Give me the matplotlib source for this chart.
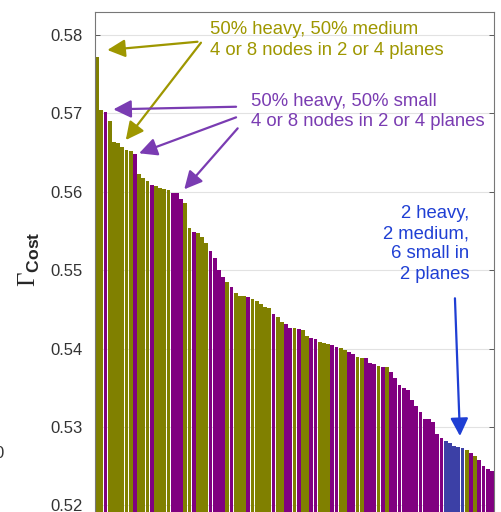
import numpy as np
import matplotlib
matplotlib.use("Agg")
import matplotlib.pyplot as plt

plt.rcParams['font.family'] = ['Liberation Sans', 'DejaVu Sans']
plt.rcParams['mathtext.fontset'] = 'custom'
plt.rcParams['mathtext.rm'] = 'Liberation Serif'
plt.rcParams['mathtext.bf'] = 'Liberation Sans:bold'

# Gamma_cost of each configuration, sorted descending
cost = [0.57717, 0.57038, 0.57017, 0.56902, 0.56627, 0.56620, 0.56568, 0.56535, 0.56522, 0.56478,
        0.56220, 0.56175, 0.56138, 0.56089, 0.56074, 0.56045, 0.56032, 0.56015, 0.55987, 0.55978,
        0.55901, 0.55850, 0.55531, 0.55488, 0.55468, 0.55417, 0.55344, 0.55242, 0.55153, 0.55000,
        0.54915, 0.54851, 0.54780, 0.54703, 0.54675, 0.54669, 0.54652, 0.54637, 0.54609, 0.54567,
        0.54532, 0.54512, 0.54436, 0.54399, 0.54341, 0.54307, 0.54265, 0.54255, 0.54245, 0.54236,
        0.54159, 0.54138, 0.54117, 0.54087, 0.54066, 0.54053, 0.54045, 0.54023, 0.54003, 0.53981,
        0.53952, 0.53930, 0.53896, 0.53885, 0.53873, 0.53819, 0.53799, 0.53781, 0.53768, 0.53760,
        0.53704, 0.53620, 0.53535, 0.53501, 0.53471, 0.53344, 0.53268, 0.53195, 0.53102, 0.53096,
        0.53067, 0.52911, 0.52856, 0.52825, 0.52792, 0.52762, 0.52741, 0.52735, 0.52707, 0.52673,
        0.52634, 0.52580, 0.52503, 0.52461, 0.52443]

# M = 50% heavy / 50% medium, S = 50% heavy / 50% small, X = 2 heavy, 2 medium, 6 small
group = list("MMSMMMMMMS"
             "MMMSMMMMSS"
             "SMMSMMMSSS"
             "SMSMMMSMMM"
             "MMSMMSSMSM"
             "MSSMMMSSMM"
             "SSMMSSSMSM"
             "SSSSSSSSSS"
             "SSSXXXXXMS"
             "MSSSS")

colors = {'M': '#808000', 'S': '#800080', 'X': '#3c40a6'}
yticks = [0.52, 0.53, 0.54, 0.55, 0.56, 0.57, 0.58]

fig = plt.figure(figsize=(5.01, 5.12), dpi=100)
ax = fig.add_axes([95 / 501, -20 / 512, 399 / 501, 520 / 512])

x = np.arange(1, len(cost) + 1)
ax.bar(x, cost, width=0.9, color=[colors[g] for g in group], linewidth=0)

ax.set_xlim(0.5, len(cost) + 0.5)
ax.set_ylim(0.516624, 0.58287)
ax.set_yticks(yticks)
ax.set_yticklabels(['%.2f' % t for t in yticks])
ax.set_xticks([])
ax.tick_params(axis='y', direction='in', length=3.5, width=0.6, right=True,
               labelsize=12, labelcolor='#333333', color='#444444', pad=9)
ax.grid(axis='y', color='#e2e2e2', lw=0.8)
ax.set_axisbelow(True)
for s in ax.spines.values():
    s.set_color('#777777')
    s.set_linewidth(0.8)

olive = '#9e9700'
purple = '#7a3cb2'
blue = '#1f3fd4'

def arrow(tail, tip, c):
    ax.annotate('', xy=tip, xytext=tail,
                arrowprops=dict(arrowstyle='-|>,head_length=0.9,head_width=0.45',
                                mutation_scale=12, color=c, lw=1.6,
                                shrinkA=0, shrinkB=0))

ax.text(27.88, 0.5793, '50% heavy, 50% medium\n4 or 8 nodes in 2 or 4 planes',
        color=olive, fontsize=13.3, ha='left', va='center', linespacing=1.24)
arrow((24.9, 0.57908), (3.44, 0.57803), olive)
arrow((25.73, 0.57896), (7.83, 0.56656), olive)

ax.text(37.67, 0.57023, '50% heavy, 50% small\n4 or 8 nodes in 2 or 4 planes',
        color=purple, fontsize=13.3, ha='left', va='center', linespacing=1.24)
arrow((34.09, 0.57080), (4.87, 0.57047), purple)
arrow((34.09, 0.56945), (11.0, 0.56487), purple)
arrow((34.47, 0.56805), (21.75, 0.56028), purple)

ax.text(89.61, 0.55333, '2 heavy,\n2 medium,\n6 small in\n2 planes',
        color=blue, fontsize=13.3, ha='right', va='center', multialignment='right',
        linespacing=1.24)
arrow((86.2, 0.54640), (87.4, 0.52885), blue)

fig.text(29 / 501, 1 - 259 / 512, r'$\Gamma_{\mathbf{Cost}}$', rotation=90,
         ha='center', va='center', fontsize=18, color='#262626')
fig.text(4 / 501, 1 - 453 / 512, '0', ha='right', va='center', fontsize=12, color='#333333')

fig.savefig('out.png', dpi=100)
